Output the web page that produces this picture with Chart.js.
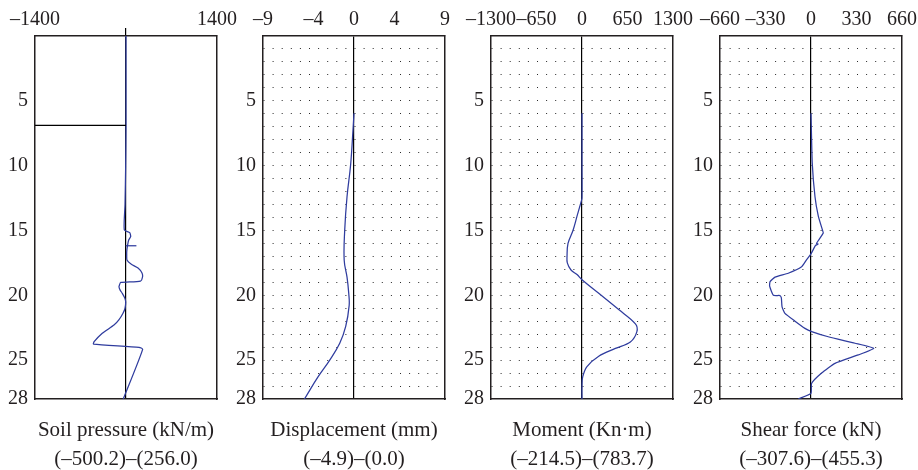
<!DOCTYPE html>
<html><head><meta charset="utf-8">
<script src="https://cdn.jsdelivr.net/npm/chart.js@4.4.1/dist/chart.umd.min.js"></script>
<style>
html,body{margin:0;padding:0;background:#fff;overflow:hidden;width:918px;height:470px;}
.p{position:absolute;top:0;}
</style></head><body>
<div class="p" style="left:0px"><canvas id="c1" width="243" height="470"></canvas></div>
<div class="p" style="left:228px"><canvas id="c2" width="243" height="470"></canvas></div>
<div class="p" style="left:456px"><canvas id="c3" width="243" height="470"></canvas></div>
<div class="p" style="left:685px"><canvas id="c4" width="243" height="470"></canvas></div>
<script>
// ---- depth axis ----
const depthMin = 0, depthMax = 28;
const depthTickLabels = [5, 10, 15, 20, 25, 28];
const depthGridRows = [0,1,2,3,4,5,6,7,8,9,10,11,12,13,14,15,16,17,18,19,20,21,22,23,24,25,26,27,28];

// ---- panel 1: soil pressure ----
const pressureTicks = [-1400, 0, 1400];
const pressureTickLabels = [-1400, 1400];
const pressureDepth = [0, 7, 10, 13, 14.96, 15.17, 15.48, 15.75, 16.18, 16.6, 16.9, 17.28, 17.59, 17.9, 18.28, 18.59, 18.9, 19.01, 19.2, 19.34, 19.6, 19.85, 20.2, 20.5, 21.0, 21.39, 21.9, 22.3, 22.93, 23.58, 23.76, 24.01, 24.17, 28];
const pressureValue = [0, 0, -5, -15, -26, 57, 72, 40, 23, 12, 11, 15, 77, 185, 246, 254, 223, -82, -100, -108, -90, -57, -20, -5, -15, -46, -110, -185, -365, -490, -500, 200, 256, -42];
const pressureMarkDepth = [16.18, 16.18];
const pressureMarkValue = [-5, 160];
const groundDepth = [6.9, 6.9];
const groundValue = [-1400, 0];

// ---- panel 2: displacement ----
const displacementTicks = [-9, -4, 0, 4, 9];
const displacementDepth = [5.96, 7.25, 9.9, 12.4, 15, 17.3, 18.6, 19.85, 20.8, 22.4, 23.7, 25, 26.3, 28];
const displacementValue = [0, -0.1, -0.33, -0.69, -0.92, -0.97, -0.69, -0.52, -0.48, -0.82, -1.41, -2.4, -3.56, -4.9];

// ---- panel 3: moment ----
const momentTicks = [-1300, -650, 0, 650, 1300];
const momentDepth = [5.96, 10, 12.5, 12.7, 13.9, 15, 16, 17, 17.5, 18.05, 18.4, 18.8, 19.85, 21.1, 22.2, 22.8, 23.6, 24.1, 24.7, 25.5, 26.3, 27, 28];
const momentValue = [0, 0, 0, -8, -71, -129, -200, -214, -210, -157, -71, 0, 239, 524, 763, 784, 691, 477, 239, 71, 10, 0, 0];

// ---- panel 4: shear force ----
const shearTicks = [-660, -330, 0, 330, 660];
const shearDepth = [5.96, 9.8, 12.4, 13.9, 15, 15.2, 15.7, 16.0, 16.05, 16.15, 16.8, 17.3, 17.8, 18.3, 18.6, 18.95, 19.3, 20.0, 20.02, 20.2, 20.9, 21.4, 22.0, 22.55, 22.8, 23.2, 23.7, 24.1, 24.6, 25.25, 26.0, 26.8, 27.56, 28];
const shearValue = [0, 9, 29, 53, 84, 89, 58, 40, 52, 33, 0, -35, -68, -165, -261, -297, -300, -273, -225, -215, -210, -189, -116, -44, 5, 125, 319, 455, 343, 174, 77, 4, 0, -92];

const panelTitles = [
  ['Soil pressure (kN/m)', '(\u2013500.2)\u2013(256.0)'],
  ['Displacement (mm)', '(\u20134.9)\u2013(0.0)'],
  ['Moment (Kn\u00B7m)', '(\u2013214.5)\u2013(783.7)'],
  ['Shear force (kN)', '(\u2013307.6)\u2013(455.3)']
];

const INK = '#231f20';
const BLUE = '#2f3c9e';
const FONT = "'Liberation Serif', 'DejaVu Serif', serif";
const CLEAR = 'rgba(0,0,0,0)';

function pts(xs, ys) { return xs.map((v, i) => ({x: v, y: ys[i]})); }
function fmt(v) { return v < 0 ? '\u2013' + Math.abs(v) : String(v); }
function series(xs, ys, color, tension) {
  return {data: pts(xs, ys), showLine: true, borderColor: color, borderWidth: 1.25,
          pointRadius: 0, tension: tension, fill: false, xAxisID: 'x', yAxisID: 'y'};
}

function panel(id, o) {
  new Chart(document.getElementById(id), {
    type: 'scatter',
    data: {datasets: o.datasets},
    options: {
      responsive: false, animation: false, devicePixelRatio: 1,
      layout: {padding: {left: 0, right: 26, top: 0, bottom: 0}},
      plugins: {legend: {display: false}, tooltip: {enabled: false}, title: {display: false}},
      scales: {
        x: {
          type: 'linear', position: 'top', min: o.ticks[0], max: o.ticks[o.ticks.length - 1],
          afterBuildTicks: s => { s.ticks = o.ticks.map(v => ({value: v})); },
          afterFit: s => { s.height = 36; s.paddingLeft = 0; s.paddingRight = 0; },
          ticks: {autoSkip: false, maxRotation: 0, padding: o.zeroTick ? -4 : 4, color: INK,
                  font: {family: FONT, size: 20},
                  callback: v => o.labels.includes(v) ? fmt(v) : ''},
          grid: {color: c => (c.tick && c.tick.value === 0) ? '#000' : CLEAR, lineWidth: 1.2,
                 drawTicks: !!o.zeroTick, tickLength: 8, tickWidth: 1.2,
                 tickColor: c => (c.tick && c.tick.value === 0) ? '#000' : CLEAR},
          border: {display: true, color: INK, width: 1.5}
        },
        y: {
          type: 'linear', position: 'left', reverse: true, min: depthMin, max: depthMax,
          afterBuildTicks: s => { s.ticks = depthGridRows.map(v => ({value: v})); },
          afterFit: s => { s.width = 35; s.paddingTop = 0; s.paddingBottom = 0; },
          ticks: {autoSkip: false, padding: 7, color: INK, font: {family: FONT, size: 20},
                  callback: v => depthTickLabels.includes(v) ? String(v) : ''},
          grid: {color: c => (o.dots && c.tick && c.tick.value > depthMin && c.tick.value < depthMax) ? '#2a2a2a' : CLEAR,
                 lineWidth: 1, drawTicks: false},
          border: {display: true, color: INK, width: 1.5, dash: [1, 8.1], dashOffset: 0}
        },
        x2: {
          type: 'linear', position: 'bottom', axis: 'x', display: true,
          afterFit: s => { s.height = 71; s.paddingLeft = 0; s.paddingRight = 0; },
          ticks: {display: false},
          grid: {display: true, color: CLEAR, drawTicks: false, drawOnChartArea: false},
          border: {display: true, color: INK, width: 1.5},
          title: {display: true, text: o.title, color: INK,
                  font: {family: FONT, size: 21, lineHeight: '29px'},
                  padding: {top: 0, bottom: -3.8}}
        },
        y2: {
          type: 'linear', position: 'right', axis: 'y', display: true,
          afterFit: s => { s.width = 0; s.paddingTop = 0; s.paddingBottom = 0; },
          ticks: {display: false},
          grid: {display: true, color: CLEAR, drawTicks: false, drawOnChartArea: false},
          border: {display: true, color: INK, width: 1.5}
        }
      }
    }
  });
}

panel('c1', {ticks: pressureTicks, labels: pressureTickLabels, zeroTick: true, dots: false, title: panelTitles[0],
  datasets: [
    series(groundValue, groundDepth, '#000', 0),
    series(pressureValue, pressureDepth, BLUE, 0.2),
    series(pressureMarkValue, pressureMarkDepth, BLUE, 0)
  ]});
panel('c2', {ticks: displacementTicks, labels: displacementTicks, zeroTick: false, dots: true, title: panelTitles[1],
  datasets: [series(displacementValue, displacementDepth, BLUE, 0.4)]});
panel('c3', {ticks: momentTicks, labels: momentTicks, zeroTick: false, dots: true, title: panelTitles[2],
  datasets: [series(momentValue, momentDepth, BLUE, 0.35)]});
panel('c4', {ticks: shearTicks, labels: shearTicks, zeroTick: false, dots: true, title: panelTitles[3],
  datasets: [series(shearValue, shearDepth, BLUE, 0.15)]});
</script>
</body></html>
